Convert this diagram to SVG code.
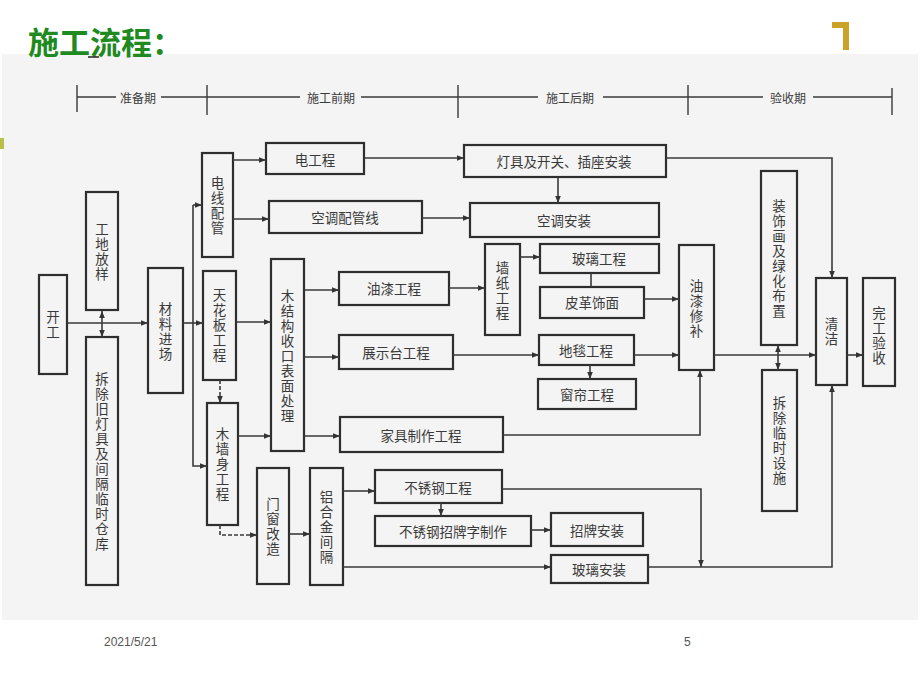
<svg xmlns="http://www.w3.org/2000/svg" width="920" height="690" viewBox="0 0 920 690">
<style>
.bx{fill:none;stroke:#2e2e2e;stroke-width:2.2}
.t{font-family:"Noto Sans CJK SC","Noto Sans",sans-serif;font-size:13.5px;fill:#3a3a3a;text-anchor:middle;dominant-baseline:central}
.v{writing-mode:vertical-rl;letter-spacing:1.5px}
.c{fill:none;stroke:#3a3a3a;stroke-width:1.6}
.d{stroke-dasharray:4 2}
.tl{fill:none;stroke:#3a3a3a;stroke-width:1.4}
.tt{font-family:"Noto Sans CJK SC",sans-serif;font-size:12px;fill:#3a3a3a;text-anchor:middle;dominant-baseline:central}
.ft{font-family:"Liberation Sans",Arial,sans-serif;font-size:12px;fill:#555}
</style>
<defs>
<marker id="a" viewBox="0 0 10 10" refX="10" refY="5" markerWidth="8" markerHeight="7" markerUnits="userSpaceOnUse" orient="auto-start-reverse"><path d="M0,1 L10,5 L0,9 z" fill="#333"/></marker>
</defs>
<rect x="0" y="0" width="920" height="690" fill="#ffffff"/>
<rect x="2" y="54" width="916" height="566" fill="#f4f4f4"/>
<rect x="0" y="138" width="4" height="11" fill="#b8c04a"/>
<text x="28" y="40" font-family="Noto Sans CJK SC,sans-serif" font-size="31" font-weight="bold" fill="#1f8a1f" dominant-baseline="central">施工流程：</text>
<path d="M88,57 H99" stroke="#222" stroke-width="1.5"/>
<path d="M832,25 H846 V50" fill="none" stroke="#c9a227" stroke-width="6"/>

<g id="timeline">
<path class="tl" d="M77,85 V112 M207,85 V115 M458,85 V118 M688,85 V115 M892,88 V115"/>
<path class="tl" d="M77,97 H116 M161,97 H300 M361,97 H538 M603,97 H763 M813,97 H892"/>
<text class="tt" x="138" y="97">准备期</text>
<text class="tt" x="331" y="97">施工前期</text>
<text class="tt" x="570" y="97">施工后期</text>
<text class="tt" x="788" y="97">验收期</text>
</g>

<g id="n_kaigong"><rect class="bx" x="39" y="275" width="28" height="99"/><text class="t v" x="53" y="325">开工</text></g>
<g id="n_fangyang"><rect class="bx" x="86" y="192" width="32" height="118"/><text class="t v" x="102" y="252">工地放样</text></g>
<g id="n_chaichu"><rect class="bx" x="86" y="337" width="32" height="248"/><text class="t v" x="102" y="462">拆除旧灯具及间隔临时仓库</text></g>
<g id="n_cailiao"><rect class="bx" x="148" y="268" width="35" height="125"/><text class="t v" x="165.5" y="332">材料进场</text></g>
<g id="n_dianxian"><rect class="bx" x="202" y="153" width="31" height="104"/><text class="t v" x="217.5" y="206">电线配管</text></g>
<g id="n_tianhua"><rect class="bx" x="203" y="271" width="33" height="109"/><text class="t v" x="219.5" y="326">天花板工程</text></g>
<g id="n_muqiang"><rect class="bx" x="207" y="403" width="31" height="122"/><text class="t v" x="222.5" y="465">木墙身工程</text></g>
<g id="n_mujiegou"><rect class="bx" x="271" y="259" width="33" height="192"/><text class="t v" x="287.5" y="357">木结构收口表面处理</text></g>
<g id="n_menchuang"><rect class="bx" x="257" y="468" width="32" height="116"/><text class="t v" x="273" y="527">门窗改造</text></g>
<g id="n_lvhejin"><rect class="bx" x="310" y="468" width="33" height="117"/><text class="t v" x="326.5" y="528">铝合金间隔</text></g>
<g id="n_diangong"><rect class="bx" x="266" y="143" width="98" height="31"/><text class="t" x="315" y="159">电工程</text></g>
<g id="n_kongtiaopg"><rect class="bx" x="269" y="201" width="153" height="32"/><text class="t" x="345" y="217">空调配管线</text></g>
<g id="n_dengju"><rect class="bx" x="464" y="145" width="202" height="32"/><text class="t" x="564" y="161">灯具及开关、插座安装</text></g>
<g id="n_kongtiaoaz"><rect class="bx" x="470" y="203" width="189" height="34"/><text class="t" x="564" y="220">空调安装</text></g>
<g id="n_youqi"><rect class="bx" x="339" y="272" width="110" height="33"/><text class="t" x="394" y="288">油漆工程</text></g>
<g id="n_qiangzhi"><rect class="bx" x="485" y="244" width="35" height="91"/><text class="t v" x="502.5" y="291">墙纸工程</text></g>
<g id="n_boli"><rect class="bx" x="540" y="244" width="119" height="29"/><text class="t" x="599" y="258">玻璃工程</text></g>
<g id="n_pige"><rect class="bx" x="540" y="287" width="104" height="31"/><text class="t" x="592" y="302">皮革饰面</text></g>
<g id="n_zhanshi"><rect class="bx" x="339" y="335" width="114" height="34"/><text class="t" x="396" y="352">展示台工程</text></g>
<g id="n_ditan"><rect class="bx" x="539" y="335" width="95" height="30"/><text class="t" x="586" y="350">地毯工程</text></g>
<g id="n_chuanglian"><rect class="bx" x="538" y="379" width="98" height="30"/><text class="t" x="587" y="394">窗帘工程</text></g>
<g id="n_jiaju"><rect class="bx" x="340" y="417" width="163" height="35"/><text class="t" x="421" y="435">家具制作工程</text></g>
<g id="n_buxiugang"><rect class="bx" x="375" y="470" width="127" height="33"/><text class="t" x="438" y="487">不锈钢工程</text></g>
<g id="n_zhaopaizi"><rect class="bx" x="375" y="516" width="156" height="30"/><text class="t" x="453" y="531">不锈钢招牌字制作</text></g>
<g id="n_zhaopaiaz"><rect class="bx" x="551" y="513" width="92" height="33"/><text class="t" x="597" y="530">招牌安装</text></g>
<g id="n_boliaz"><rect class="bx" x="551" y="555" width="97" height="28"/><text class="t" x="599" y="569">玻璃安装</text></g>
<g id="n_youqixb"><rect class="bx" x="679" y="245" width="35" height="125"/><text class="t v" x="696.5" y="309">油漆修补</text></g>
<g id="n_zhuangshi"><rect class="bx" x="761" y="171" width="36" height="174"/><text class="t v" x="779" y="259">装饰画及绿化布置</text></g>
<g id="n_chaichulinshi"><rect class="bx" x="762" y="370" width="35" height="141"/><text class="t v" x="779.5" y="441">拆除临时设施</text></g>
<g id="n_qingjie"><rect class="bx" x="816" y="278" width="31" height="107"/><text class="t v" x="831.5" y="332">清洁</text></g>
<g id="n_wangong"><rect class="bx" x="863" y="278" width="32" height="108"/><text class="t v" x="879" y="336">完工验收</text></g>

<g id="connectors">
<path class="c" d="M67,323 H148" marker-end="url(#a)"/>
<path class="c" d="M102,323 V311" marker-end="url(#a)"/>
<path class="c" d="M102,323 V337" marker-end="url(#a)"/>
<path class="c" d="M183,323 H203" marker-end="url(#a)"/>
<path class="c" d="M193,205 V466 H207" marker-end="url(#a)"/>
<path class="c" d="M193,205 H202" marker-end="url(#a)"/>
<path class="c d" d="M220,380 V403" marker-end="url(#a)"/>
<path class="c" d="M236,322 H271" marker-end="url(#a)"/>
<path class="c" d="M238,436 H271" marker-end="url(#a)"/>
<path class="c d" d="M220,525 V535 H257" marker-end="url(#a)"/>
<path class="c" d="M289,534 H310" marker-end="url(#a)"/>
<path class="c" d="M233,160 H266" marker-end="url(#a)"/>
<path class="c" d="M233,219 H269" marker-end="url(#a)"/>
<path class="c" d="M364,158 H464" marker-end="url(#a)"/>
<path class="c" d="M422,218 H470" marker-end="url(#a)"/>
<path class="c" d="M558,177 V203" marker-end="url(#a)"/>
<path class="c" d="M666,158 H832 V278" marker-end="url(#a)"/>
<path class="c" d="M304,290 H339" marker-end="url(#a)"/>
<path class="c" d="M449,288 H485" marker-end="url(#a)"/>
<path class="c" d="M520,257 H540" marker-end="url(#a)"/>
<path class="c" d="M591,273 V287"/>
<path class="c" d="M644,299 H679" marker-end="url(#a)"/>
<path class="c" d="M304,357 H339" marker-end="url(#a)"/>
<path class="c" d="M453,355 H539" marker-end="url(#a)"/>
<path class="c" d="M634,355 H679" marker-end="url(#a)"/>
<path class="c" d="M590,365 V379" marker-end="url(#a)"/>
<path class="c" d="M304,436 H340" marker-end="url(#a)"/>
<path class="c" d="M503,435 H700 V370" marker-end="url(#a)"/>
<path class="c" d="M502,489 H701 V567" marker-end="url(#a)"/>
<path class="c" d="M441,503 V516" marker-end="url(#a)"/>
<path class="c" d="M531,530 H551" marker-end="url(#a)"/>
<path class="c" d="M343,491 H375" marker-end="url(#a)"/>
<path class="c" d="M343,567 H551" marker-end="url(#a)"/>
<path class="c" d="M648,567 H832 V385" marker-end="url(#a)"/>
<path class="c" d="M714,355 H816" marker-end="url(#a)"/>
<path class="c" d="M778,345 V370" marker-start="url(#a)" marker-end="url(#a)"/>
<path class="c" d="M847,355 H863" marker-end="url(#a)"/>
</g>

<text class="ft" x="104" y="646">2021/5/21</text>
<text class="ft" x="684" y="646">5</text>
</svg>
